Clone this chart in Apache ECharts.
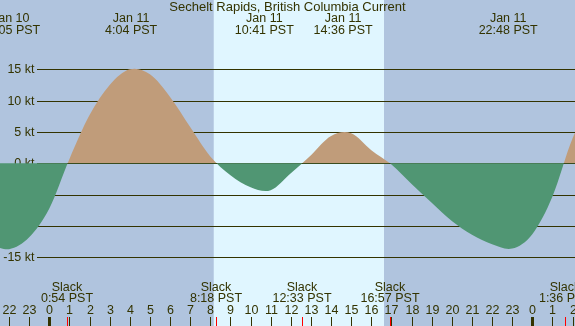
<!DOCTYPE html>
<html>
<head>
<meta charset="utf-8">
<script src="https://cdn.jsdelivr.net/npm/echarts@6/dist/echarts.min.js"></script>
<style>
  html, body { margin: 0; padding: 0; }
  #chart { width: 575px; height: 326px; }
</style>
</head>
<body>
<div id="chart"></div>
<script>
// hours are counted from Jan 11 00:00 PST, one reading per hour
var curveHours = [-3, -2, -1, 0, 1, 2, 3, 4, 5, 6, 7, 8, 9, 10, 11, 12, 13, 14, 15,
                  16, 17, 18, 19, 20, 21, 22, 23, 24, 25, 26, 27];
var curveKnots = [-12.8, -13.7, -11.8, -7.2, 0.7, 7.7, 12.5, 15.0, 14.2, 10.6, 5.8, 1.1, -1.9, -3.8, -4.3, -1.6,
                  1.3, 4.35, 4.8, 2.1, -0.2, -3.3, -6.3, -9.2, -11.4, -12.9, -13.6, -11.3, -5.3, 4.0, 10.0];

var gridKnots = [15, 10, 5, 0, -5, -10, -15];
var hourTicks = [-2, -1, 0, 1, 2, 3, 4, 5, 6, 7, 8, 9, 10, 11, 12, 13, 14, 15, 16,
                 17, 18, 19, 20, 21, 22, 23, 24, 25, 26];

var slackHours = [0.9, 8.3, 12.55, 16.95, 25.6];
var slackTimes = ['0:54 PST', '8:18 PST', '12:33 PST', '16:57 PST', '1:36 PST'];

var eventHours = [-1.917, 4.067, 10.683, 14.6, 22.8];
var eventDates = ['Jan 10', 'Jan 11', 'Jan 11', 'Jan 11', 'Jan 11'];
var eventTimes = ['22:05 PST', '4:04 PST', '10:41 PST', '14:36 PST', '22:48 PST'];

var dayStart = 8.17, dayEnd = 16.63;

var INK = '#333300';
var FLOOD = '#c09c7a', EBB = '#509673';
var FONT = '12.5px "Liberation Sans"';

var chart = echarts.init(document.getElementById('chart'));

function textEl(str, x, y, align) {
    return {
        type: 'text',
        style: { text: str, x: x, y: y, align: align || 'center', verticalAlign: 'middle', fill: INK, font: FONT }
    };
}

// filled current curve: catmull-rom through the hourly readings, closed on the zero line
function renderCurve(params, api) {
    var pts = curveHours.map(function (h, i) { return api.coord([h, curveKnots[i]]); });
    var zeroY = api.coord([0, 0])[1];
    var n = pts.length;
    var d = 'M' + pts[0][0] + ' ' + zeroY + 'L' + pts[0][0] + ' ' + pts[0][1];
    for (var i = 0; i < n - 1; i++) {
        var p0 = pts[Math.max(i - 1, 0)], p1 = pts[i], p2 = pts[i + 1], p3 = pts[Math.min(i + 2, n - 1)];
        var c1x = p1[0] + (p2[0] - p0[0]) / 6, c1y = p1[1] + (p2[1] - p0[1]) / 6;
        var c2x = p2[0] - (p3[0] - p1[0]) / 6, c2y = p2[1] - (p3[1] - p1[1]) / 6;
        d += 'C' + c1x + ' ' + c1y + ' ' + c2x + ' ' + c2y + ' ' + p2[0] + ' ' + p2[1];
    }
    d += 'L' + pts[n - 1][0] + ' ' + zeroY + 'Z';
    var h = api.getHeight(), p = zeroY / h;
    return {
        type: 'path',
        shape: { pathData: d },
        style: {
            fill: new echarts.graphic.LinearGradient(0, 0, 0, h, [
                { offset: 0, color: FLOOD }, { offset: p, color: FLOOD },
                { offset: p, color: EBB }, { offset: 1, color: EBB }
            ], true)
        }
    };
}

var option = {
    backgroundColor: '#b0c4de',
    animation: false,
    title: {
        text: 'Sechelt Rapids, British Columbia Current',
        left: 'center', top: 0, padding: 1,
        textStyle: { color: INK, fontSize: 13, fontWeight: 'normal', fontFamily: 'Liberation Sans' }
    },
    grid: { left: 0, right: 0, top: 0, bottom: 0 },
    xAxis: { type: 'value', min: -2.45, max: 26.12, show: false },
    yAxis: { type: 'value', min: -25.96, max: 26.06, show: false, splitLine: { show: false } },
    series: [{
        // day light band + horizontal kt lines
        type: 'custom', z: 1, clip: false,
        data: gridKnots.map(function (v) { return [0, v]; }),
        renderItem: function (params, api) {
            var y = Math.round(api.coord([0, api.value(1)])[1]) + 0.5;
            return {
                type: 'group',
                children: [{
                    type: 'line',
                    shape: { x1: 37, y1: y, x2: 575, y2: y },
                    style: { stroke: INK, lineWidth: 1 }
                }, textEl(api.value(1) + ' kt', 34.5, y, 'right')]
            };
        },
        markArea: {
            silent: true,
            itemStyle: { color: '#e0f6ff', opacity: 1 },
            data: [[{ xAxis: dayStart }, { xAxis: dayEnd }]]
        }
    }, {
        type: 'custom', z: 2, clip: true,
        data: [[0, 0]],
        renderItem: renderCurve
    }, {
        // hour ticks and labels
        type: 'custom', z: 3, clip: false,
        data: hourTicks.map(function (h) { return [h, 0]; }),
        renderItem: function (params, api) {
            var h = api.value(0);
            var x = Math.round(api.coord([h, 0])[0]);
            var midnight = (h % 24 === 0);
            return {
                type: 'group',
                children: [{
                    type: 'rect',
                    shape: midnight ? { x: x - 1, y: 317, width: 3, height: 9 } : { x: x, y: 317, width: 1, height: 9 },
                    style: { fill: INK }
                }, textEl(String(((h % 24) + 24) % 24), x + 0.5, 311)]
            };
        }
    }, {
        // slack markers
        type: 'custom', z: 4, clip: false,
        data: slackHours.map(function (h) { return [h, 0]; }),
        renderItem: function (params, api) {
            var i = params.dataIndex;
            var x = Math.round(api.coord([api.value(0), 0])[0]);
            return {
                type: 'group',
                children: [{
                    type: 'rect',
                    shape: { x: x, y: 317, width: 1, height: 9 },
                    style: { fill: '#ff0000' }
                }, textEl('Slack', x, 288), textEl(slackTimes[i], x, 299)]
            };
        }
    }, {
        // max / min current labels
        type: 'custom', z: 4, clip: false,
        data: eventHours.map(function (h) { return [h, 0]; }),
        renderItem: function (params, api) {
            var i = params.dataIndex;
            var x = api.coord([api.value(0), 0])[0];
            return {
                type: 'group',
                children: [textEl(eventDates[i], x, 19), textEl(eventTimes[i], x, 31)]
            };
        }
    }]
};

chart.setOption(option);
</script>
</body>
</html>
